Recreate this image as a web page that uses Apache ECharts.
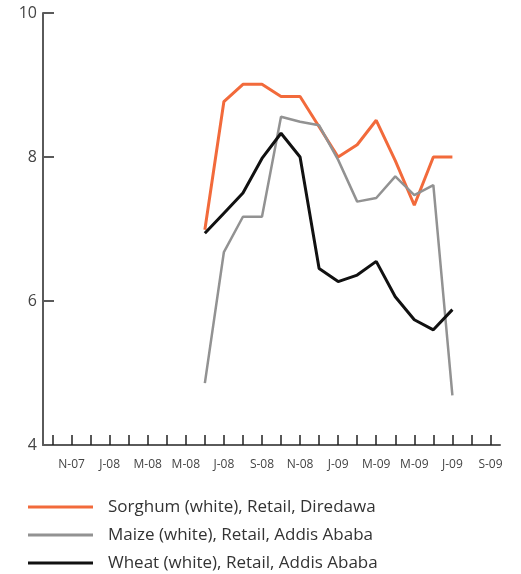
<!DOCTYPE html>
<html>
<head>
<meta charset="utf-8">
<script src="https://cdn.jsdelivr.net/npm/echarts@6/dist/echarts.min.js"></script>
<style>html,body{margin:0;padding:0;background:#fff;}#c{width:521px;height:574px;}</style>
</head>
<body>
<div id="c"></div>
<script>
const months = ['O-07','N-07','D-07','J-08','F-08','M-08','A-08','M-08','J-08','J-08','A-08','S-08','O-08','N-08','D-08','J-09','F-09','M-09','A-09','M-09','J-09','J-09','A-09','S-09'];
const sorghum = [null,null,null,null,null,null,null,null,6.99,8.77,9.01,9.01,8.84,8.84,8.42,8.0,8.17,8.51,7.95,7.33,8.0,8.0,null,null];
const maize   = [null,null,null,null,null,null,null,null,4.86,6.68,7.17,7.17,8.56,8.49,8.44,7.96,7.38,7.43,7.73,7.47,7.61,4.69,null,null];
const wheat   = [null,null,null,null,null,null,null,null,6.94,7.22,7.5,7.98,8.33,8.0,6.45,6.27,6.36,6.55,6.06,5.74,5.60,5.88,null,null];
const yTicks = [4, 6, 8, 10];
const names = ['Sorghum (white), Retail, Diredawa','Maize (white), Retail, Addis Ababa','Wheat (white), Retail, Addis Ababa'];

const chart = echarts.init(document.getElementById('c'));
chart.setOption({
  animation: false,
  grid: {left: 43, right: 21, top: 13, bottom: 129, containLabel: false},
  legend: {
    orient: 'vertical', left: 23, top: 491, height: 140,
    itemWidth: 65, itemHeight: 3, itemGap: 6, icon: 'rect',
    textStyle: {fontFamily: 'Open Sans', fontSize: 17, color: '#333', padding: [0,0,0,10], lineHeight: 22},
    data: names
  },
  xAxis: {
    type: 'category', data: months, boundaryGap: true,
    axisLine: {lineStyle: {color: '#5a5a5a', width: 2}},
    axisTick: {show: true, alignWithLabel: true, inside: true, length: 10, interval: 0, lineStyle: {color: '#222', width: 1.5}},
    axisLabel: {interval: (i) => i % 2 === 1, fontFamily: 'Open Sans', fontSize: 12, color: '#444', margin: 14},
    splitLine: {show: false}
  },
  yAxis: {
    type: 'value', min: yTicks[0], max: yTicks[yTicks.length-1], interval: 2,
    axisLine: {show: true, lineStyle: {color: '#5a5a5a', width: 2}},
    axisTick: {show: true, inside: false, length: -11, lineStyle: {color: '#5a5a5a', width: 2}},
    axisLabel: {fontFamily: 'Open Sans', fontSize: 16, color: '#444', margin: 6, padding: [8,0,0,0]},
    splitLine: {show: false}
  },
  series: [
    {name: names[0], type: 'line', data: sorghum, showSymbol: false, symbol: 'none', lineStyle: {color: '#f26a3b', width: 3}, itemStyle: {color: '#f26a3b'}},
    {name: names[1], type: 'line', data: maize, showSymbol: false, symbol: 'none', lineStyle: {color: '#929292', width: 2.5}, itemStyle: {color: '#929292'}},
    {name: names[2], type: 'line', data: wheat, showSymbol: false, symbol: 'none', lineStyle: {color: '#111', width: 3}, itemStyle: {color: '#111'}}
  ]
});
</script>
</body>
</html>
